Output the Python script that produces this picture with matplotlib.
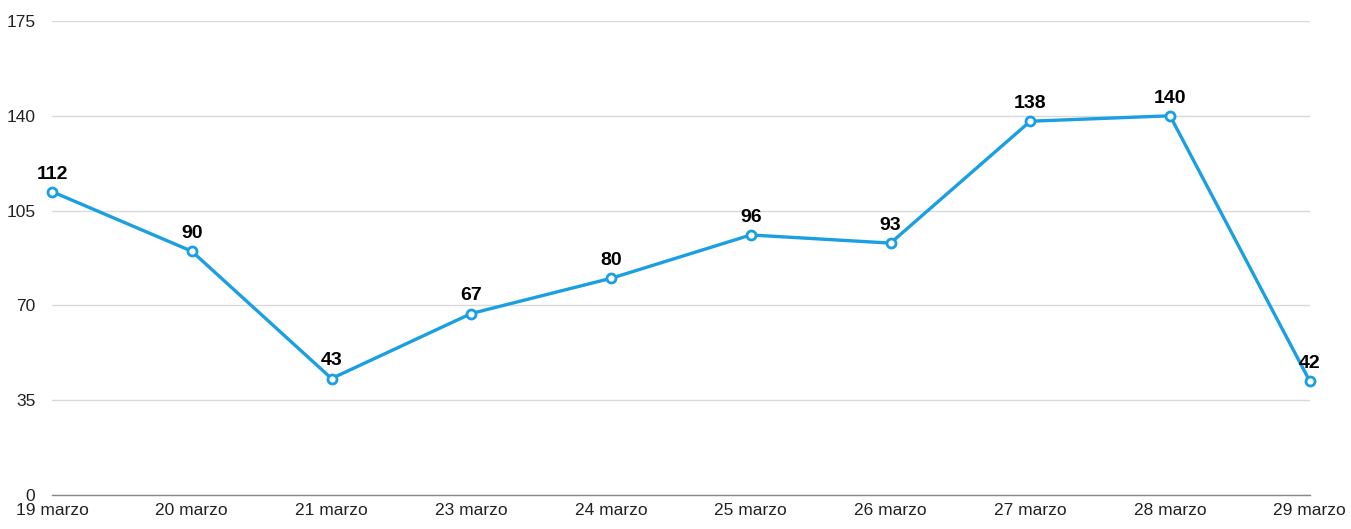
import matplotlib
matplotlib.use("Agg")
import matplotlib.pyplot as plt

days = ["19 marzo", "20 marzo", "21 marzo", "23 marzo", "24 marzo",
        "25 marzo", "26 marzo", "27 marzo", "28 marzo", "29 marzo"]
values = [112, 90, 43, 67, 80, 96, 93, 138, 140, 42]
y_ticks = [0, 35, 70, 105, 140, 175]

plt.rcParams["font.family"] = ["Liberation Sans", "DejaVu Sans"]

fig = plt.figure(figsize=(13.51, 5.29), dpi=100)
ax = fig.add_axes([0.0385, 0.0643, 0.931, 0.896])

x = list(range(len(days)))
ax.plot(x, values, color="#1a9fe3", linewidth=2.4, marker="o", markersize=6.5,
        markerfacecolor="white", markeredgecolor="#1a9fe3", markeredgewidth=2, zorder=3,
        clip_on=False)

for xi, v in zip(x, values):
    ax.annotate(str(v), (xi, v), xytext=(0, 6.5), textcoords="offset points",
                ha="center", va="bottom", fontsize=14, fontweight="bold", color="black")

ax.set_xlim(0, len(days) - 1)
ax.set_ylim(0, 175)
ax.set_yticks(y_ticks)
ax.set_xticks(x)
ax.set_xticklabels(days)
ax.tick_params(axis="both", length=0, labelsize=12.5, colors="#222222")
ax.tick_params(axis="y", pad=12)
ax.tick_params(axis="x", pad=6)

ax.grid(axis="y", color="#d9d9d9", linewidth=1)
ax.set_axisbelow(True)
for s in ["top", "right", "left"]:
    ax.spines[s].set_visible(False)
ax.spines["bottom"].set_color("#888888")
ax.spines["bottom"].set_linewidth(1)

fig.savefig("out.png", dpi=100)
